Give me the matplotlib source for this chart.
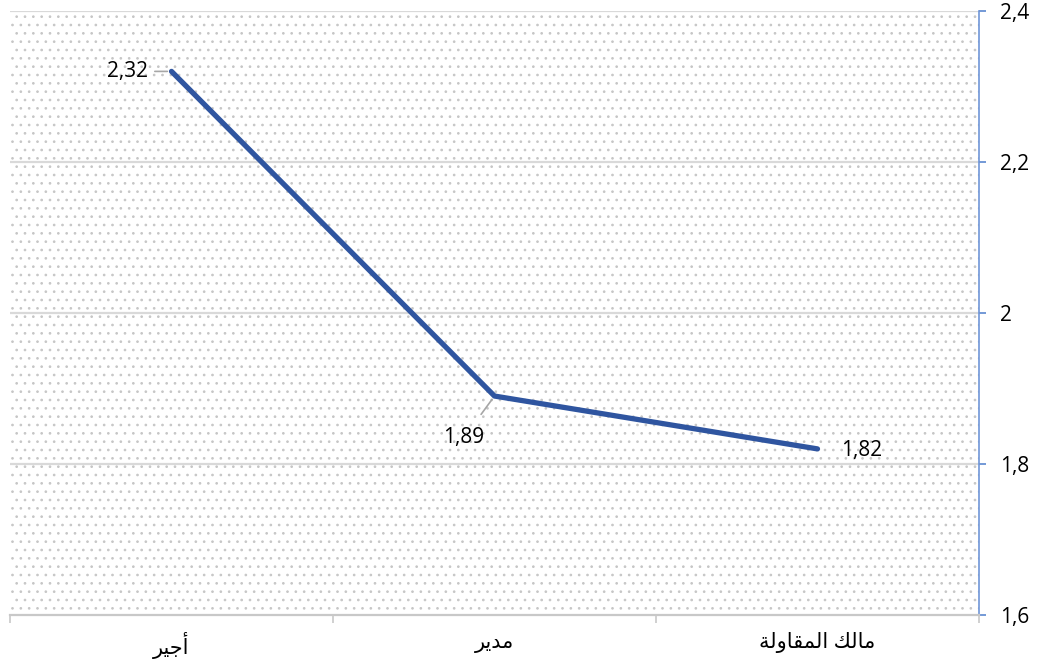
import matplotlib
matplotlib.use("Agg")
import matplotlib.pyplot as plt
from matplotlib.patches import Rectangle
from matplotlib.ticker import FixedLocator, FuncFormatter

# Données (ordre logique arabe)
categories = ["أجير", "مدير", "مالك المقاولة"]
valeurs = [2.32, 1.89, 1.82]
y_ticks = [1.6, 1.8, 2.0, 2.2, 2.4]

# formes de présentation arabes: (isolée, finale, initiale, médiane)
FORMES = {
    "\u0623": ("\uFE83", "\uFE84", None, None),
    "\u0627": ("\uFE8D", "\uFE8E", None, None),
    "\u0629": ("\uFE93", "\uFE94", None, None),
    "\u062C": ("\uFE9D", "\uFE9E", "\uFE9F", "\uFEA0"),
    "\u062F": ("\uFEA9", "\uFEAA", None, None),
    "\u0631": ("\uFEAD", "\uFEAE", None, None),
    "\u0642": ("\uFED5", "\uFED6", "\uFED7", "\uFED8"),
    "\u0643": ("\uFED9", "\uFEDA", "\uFEDB", "\uFEDC"),
    "\u0644": ("\uFEDD", "\uFEDE", "\uFEDF", "\uFEE0"),
    "\u0645": ("\uFEE1", "\uFEE2", "\uFEE3", "\uFEE4"),
    "\u0648": ("\uFEED", "\uFEEE", None, None),
    "\u064A": ("\uFEF1", "\uFEF2", "\uFEF3", "\uFEF4"),
}


def joint_gauche(c):
    return c in FORMES and FORMES[c][2] is not None


def faconner(mot):
    res = []
    for i, c in enumerate(mot):
        if c not in FORMES:
            res.append(c)
            continue
        prec = mot[i - 1] if i > 0 else " "
        suiv = mot[i + 1] if i + 1 < len(mot) else " "
        avant = joint_gauche(prec)
        apres = joint_gauche(c) and suiv in FORMES
        f = FORMES[c]
        if avant and apres:
            res.append(f[3])
        elif avant:
            res.append(f[1])
        elif apres:
            res.append(f[2])
        else:
            res.append(f[0])
    return "".join(res)[::-1]


def arabe(texte):
    return " ".join(faconner(m) for m in texte.split(" ")[::-1])


plt.rcParams['font.family'] = ['Open Sans', 'DejaVu Sans']

fig = plt.figure(figsize=(10.41, 6.66), dpi=100)
ax = fig.add_axes([10 / 1041, 1 - 615 / 666, 969 / 1041, 604 / 666])

# fond pointillé
ax.set_facecolor('white')
plt.rcParams['hatch.color'] = '#c6c6c6'
plt.rcParams['hatch.linewidth'] = 0.7
fond = Rectangle((0, 0), 1, 1, transform=ax.transAxes, facecolor='white',
                 edgecolor='#c6c6c6', hatch='..', linewidth=0, zorder=0)
ax.add_patch(fond)

x = list(range(len(categories)))
ax.plot(x, valeurs, color='#2F55A0', linewidth=3.8, solid_capstyle='round', zorder=3)

ax.set_xlim(-0.5, len(categories) - 0.5)
ax.set_ylim(1.6, 2.4)

for yv in y_ticks[1:]:
    ax.axhline(yv, color='#d9d9d9', linewidth=1.6, zorder=1)

# axe y à droite
ax.yaxis.tick_right()
ax.yaxis.set_major_locator(FixedLocator(y_ticks))
ax.yaxis.set_major_formatter(FuncFormatter(lambda v, p: ('%g' % v).replace('.', ',')))
ax.tick_params(axis='y', colors='#5b87d0', length=5, width=1.2, labelsize=15,
               labelcolor='#000000', pad=10)

# axe x
ax.set_xticks(x)
ax.set_xticklabels([arabe(c) for c in categories], fontsize=15)
ax.set_xticks([i - 0.5 for i in range(len(categories) + 1)], minor=True)
ax.tick_params(axis='x', which='major', length=0, pad=12)
ax.tick_params(axis='x', which='minor', length=6, color='#c8c8c8', width=1.2)

for s in ['top', 'left']:
    ax.spines[s].set_visible(False)
ax.spines['right'].set_color('#6f96d8')
ax.spines['right'].set_linewidth(1.2)
ax.spines['bottom'].set_color('#c8c8c8')
ax.spines['bottom'].set_linewidth(1.6)

# étiquettes de données
lab = [v_str.replace('.', ',') for v_str in ['%.2f' % v for v in valeurs]]
ax.annotate(lab[0], xy=(x[0], valeurs[0]), xytext=(-17, 0), textcoords='offset points',
            ha='right', va='center', fontsize=15,
            arrowprops=dict(arrowstyle='-', color='#a6a6a6', lw=1.2, shrinkA=3, shrinkB=3),
            zorder=4)
ax.annotate(lab[1], xy=(x[1], valeurs[1]), xytext=(-22, -30), textcoords='offset points',
            ha='center', va='center', fontsize=15,
            arrowprops=dict(arrowstyle='-', color='#a6a6a6', lw=1.2, shrinkA=9, shrinkB=3),
            zorder=4)
ax.annotate(lab[2], xy=(x[2], valeurs[2]), xytext=(17, -1), textcoords='offset points',
            ha='left', va='center', fontsize=15, zorder=4)

fig.savefig('out.png', dpi=100)
